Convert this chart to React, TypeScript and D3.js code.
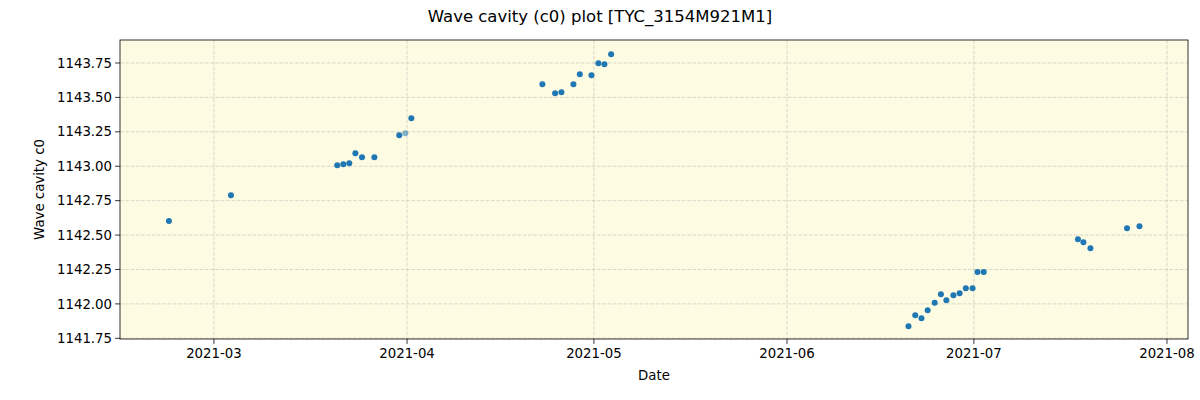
import React from "react";
import * as d3 from "d3";

const dates: string[] = [
  "2021-02-21T18:30", "2021-03-03T17:30",
  "2021-03-20T19:00", "2021-03-21T18:30", "2021-03-22T17:30", "2021-03-23T17:00", "2021-03-24T18:30", "2021-03-26T18:00",
  "2021-03-30T18:00", "2021-03-31T17:30", "2021-04-01T16:30",
  "2021-04-22T17:30", "2021-04-24T18:30", "2021-04-25T18:45", "2021-04-27T17:00", "2021-04-28T17:45", "2021-04-30T14:30",
  "2021-05-01T17:15", "2021-05-02T16:30", "2021-05-03T18:15",
  "2021-06-20T12:00", "2021-06-21T14:00", "2021-06-22T14:00", "2021-06-23T14:00", "2021-06-24T17:00", "2021-06-25T17:00",
  "2021-06-26T14:00", "2021-06-27T17:00", "2021-06-28T17:00", "2021-06-29T17:00", "2021-06-30T19:00", "2021-07-01T14:00", "2021-07-02T14:00",
  "2021-07-17T17:00", "2021-07-18T14:00", "2021-07-19T17:00", "2021-07-25T14:00", "2021-07-27T14:00",
];
const values: number[] = [
  1142.603, 1142.79,
  1143.007, 1143.014, 1143.022, 1143.094, 1143.065, 1143.065,
  1143.225, 1143.240, 1143.349,
  1143.595, 1143.530, 1143.537, 1143.595, 1143.668, 1143.661,
  1143.748, 1143.740, 1143.813,
  1141.838, 1141.918, 1141.896, 1141.954, 1142.009, 1142.070,
  1142.027, 1142.063, 1142.078, 1142.114, 1142.114, 1142.232, 1142.232,
  1142.470, 1142.448, 1142.405, 1142.550, 1142.564,
];
const faded: number[] = [9];
const xTicks: string[] = ["2021-03-01", "2021-04-01", "2021-05-01", "2021-06-01", "2021-07-01", "2021-08-01"];
const yTicks: number[] = [1141.75, 1142.0, 1142.25, 1142.5, 1142.75, 1143.0, 1143.25, 1143.5, 1143.75];

const W = 1200, H = 400;
const L = 120, R = 1188, T = 40, B = 339;

export default function App() {
  const parse = (s: string) => new Date(s);
  const x = d3.scaleTime()
    .domain([parse("2021-02-13T22:00"), parse("2021-08-04T09:00")])
    .range([L, R]);
  const y = d3.scaleLinear().domain([1141.745, 1143.917]).range([B, T]);
  const fmt = d3.timeFormat("%Y-%m");
  const font = "DejaVu Sans, sans-serif";
  return (
    <svg width={W} height={H} style={{ position: "absolute", left: 0, top: 0 }} fontFamily={font}>
      <rect x={0} y={0} width={W} height={H} fill="#ffffff" />
      <rect x={L} y={T} width={R - L} height={B - T} fill="#fdfbe2" />
      {xTicks.map((t) => {
        const px = x(parse(t + "T00:00"));
        return (
          <g key={t}>
            <line x1={px} x2={px} y1={T} y2={B} stroke="#b0b0b0" strokeOpacity={0.6} strokeDasharray="3.7,1.6" strokeWidth={0.8} />
            <line x1={px} x2={px} y1={B} y2={B + 4.9} stroke="#000" strokeWidth={0.8} />
            <text x={px} y={B + 19} textAnchor="middle" fontSize={13.3} fill="#000">{fmt(parse(t + "T00:00"))}</text>
          </g>
        );
      })}
      {yTicks.map((t) => {
        const py = y(t);
        return (
          <g key={t}>
            <line x1={L} x2={R} y1={py} y2={py} stroke="#b0b0b0" strokeOpacity={0.6} strokeDasharray="3.7,1.6" strokeWidth={0.8} />
            <line x1={L - 4.9} x2={L} y1={py} y2={py} stroke="#000" strokeWidth={0.8} />
            <text x={L - 8} y={py} dy="0.35em" textAnchor="end" fontSize={13.3} fill="#000">{t.toFixed(2)}</text>
          </g>
        );
      })}
      {values.map((v, i) => (
        <circle key={i} cx={x(parse(dates[i]))} cy={y(v)} r={3} fill="#1f77b4" fillOpacity={faded.includes(i) ? 0.55 : 1} />
      ))}
      <rect x={L} y={T} width={R - L} height={B - T} fill="none" stroke="#000" strokeWidth={0.8} />
      <text x={600} y={22} textAnchor="middle" fontSize={16.5} fill="#000">Wave cavity (c0) plot [TYC_3154M921M1]</text>
      <text x={654} y={380} textAnchor="middle" fontSize={13.3} fill="#000">Date</text>
      <text transform={`translate(44,${(T + B) / 2}) rotate(-90)`} textAnchor="middle" fontSize={13.3} fill="#000">Wave cavity c0</text>
    </svg>
  );
}
